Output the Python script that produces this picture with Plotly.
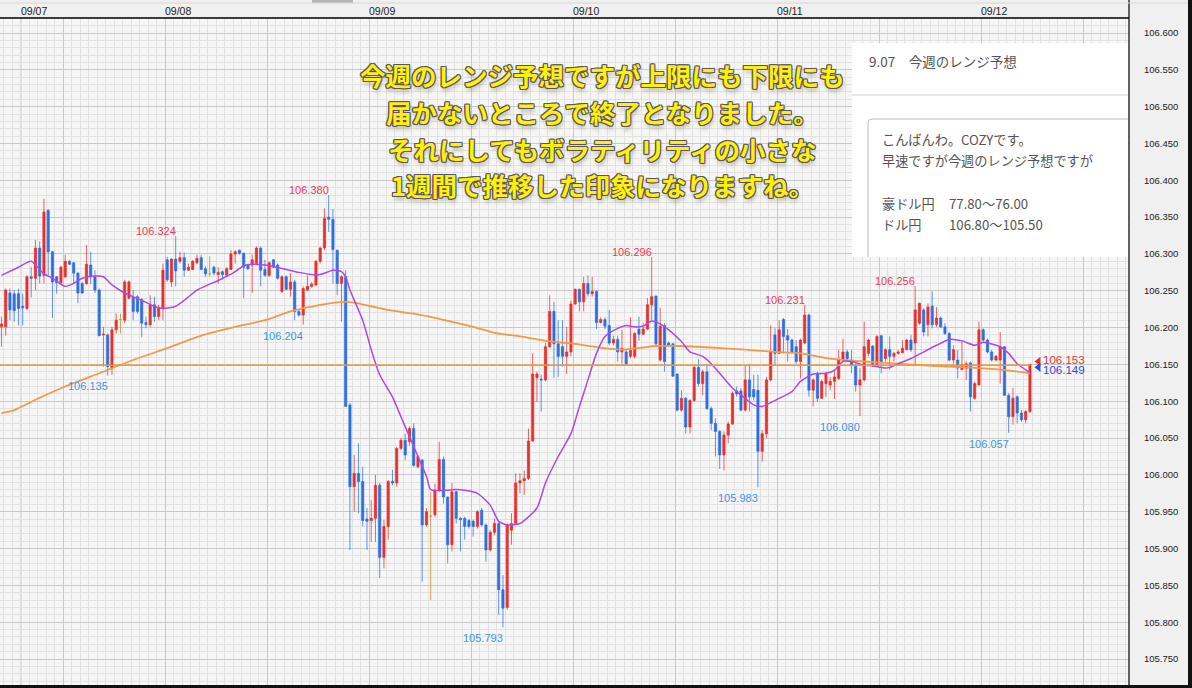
import plotly.graph_objects as go

# ---------------- data (30-minute USD/JPY bars, bar 0 = 09/07 07:00) ----------------
FIRST_BAR = -5

opens = [
    106.201, 106.201, 106.247, 106.246, 106.246, 106.229, 106.226, 106.269, 106.267, 106.308,
    106.271, 106.359, 106.303, 106.269, 106.261, 106.269, 106.290, 106.288, 106.274, 106.260,
    106.260, 106.285, 106.269, 106.251, 106.190, 106.190, 106.145, 106.197, 106.211, 106.210,
    106.240, 106.241, 106.242, 106.238, 106.207, 106.204, 106.231, 106.215, 106.226, 106.292,
    106.262, 106.293, 106.290, 106.295, 106.278, 106.279, 106.288, 106.295, 106.280, 106.273,
    106.282, 106.272, 106.276, 106.271, 106.279, 106.300, 106.305, 106.301, 106.285, 106.285,
    106.287, 106.308, 106.279, 106.271, 106.292, 106.285, 106.249, 106.269, 106.252, 106.262,
    106.222, 106.217, 106.251, 106.256, 106.258, 106.290, 106.308, 106.350, 106.347, 106.305,
    106.260, 106.269, 106.095, 105.984, 106.002, 105.991, 105.940, 105.938, 105.941, 105.986,
    105.888, 105.930, 105.991, 105.989, 106.036, 106.047, 106.045, 106.063, 106.011, 106.020,
    105.932, 105.944, 105.946, 105.979, 106.021, 105.970, 105.905, 105.977, 105.941, 105.941,
    105.938, 105.937, 105.930, 105.952, 105.932, 105.898, 105.922, 105.934, 105.844, 105.820,
    105.925, 105.934, 105.989, 105.992, 105.995, 106.046, 106.132, 106.130, 106.129, 106.174,
    106.222, 106.178, 106.174, 106.161, 106.167, 106.232, 106.252, 106.235, 106.260, 106.246,
    106.249, 106.207, 106.211, 106.203, 106.179, 106.184, 106.167, 106.167, 106.161, 106.161,
    106.198, 106.191, 106.198, 106.231, 106.243, 106.156, 106.203, 106.179, 106.178, 106.137,
    106.088, 106.104, 106.065, 106.101, 106.146, 106.124, 106.140, 106.090, 106.070, 106.059,
    106.027, 106.054, 106.069, 106.114, 106.114, 106.088, 106.129, 106.116, 106.115, 106.032,
    106.056, 106.129, 106.190, 106.165, 106.211, 106.189, 106.183, 106.174, 106.154, 106.179,
    106.217, 106.115, 106.138, 106.104, 106.124, 106.122, 106.127, 106.131, 106.156, 106.167,
    106.156, 106.149, 106.122, 106.129, 106.165, 106.175, 106.149, 106.189, 106.158, 106.170,
    106.161, 106.165, 106.166, 106.170, 106.183, 106.179, 106.206, 106.224, 106.204, 106.229,
    106.204, 106.213, 106.201, 106.192, 106.156, 106.156, 106.143, 106.145, 106.152, 106.104,
    106.122, 106.197, 106.183, 106.167, 106.156, 106.156, 106.174, 106.108, 106.079, 106.106,
    106.084, 106.075, 106.086,
]

highs = [
    106.215, 106.253, 106.253, 106.251, 106.253, 106.246, 106.271, 106.282, 106.319, 106.317,
    106.375, 106.361, 106.304, 106.270, 106.284, 106.299, 106.292, 106.289, 106.275, 106.262,
    106.312, 106.303, 106.278, 106.253, 106.201, 106.192, 106.201, 106.219, 106.219, 106.265,
    106.264, 106.251, 106.244, 106.240, 106.215, 106.244, 106.242, 106.231, 106.287, 106.296,
    106.294, 106.324, 106.303, 106.302, 106.287, 106.292, 106.299, 106.299, 106.283, 106.297,
    106.284, 106.282, 106.278, 106.282, 106.305, 106.305, 106.306, 106.302, 106.287, 106.299,
    106.310, 106.310, 106.292, 106.290, 106.293, 106.287, 106.271, 106.271, 106.274, 106.265,
    106.224, 106.256, 106.271, 106.262, 106.292, 106.310, 106.362, 106.380, 106.361, 106.306,
    106.271, 106.278, 106.098, 106.027, 106.043, 106.011, 105.955, 105.966, 106.000, 105.989,
    105.939, 105.993, 106.007, 106.038, 106.050, 106.056, 106.066, 106.070, 106.027, 106.022,
    105.955, 105.977, 105.988, 106.045, 106.025, 105.970, 105.989, 105.979, 105.943, 105.943,
    105.940, 105.939, 105.952, 105.955, 105.934, 105.925, 105.941, 105.937, 105.864, 105.934,
    105.948, 106.002, 106.002, 106.006, 106.063, 106.165, 106.140, 106.136, 106.179, 106.244,
    106.235, 106.210, 106.210, 106.201, 106.237, 106.253, 106.253, 106.269, 106.271, 106.269,
    106.251, 106.214, 106.214, 106.224, 106.189, 106.189, 106.197, 106.170, 106.214, 106.194,
    106.215, 106.206, 106.240, 106.296, 106.243, 106.227, 106.206, 106.181, 106.179, 106.138,
    106.115, 106.106, 106.103, 106.149, 106.157, 106.143, 106.151, 106.093, 106.077, 106.061,
    106.059, 106.072, 106.113, 106.120, 106.118, 106.149, 106.151, 106.136, 106.136, 106.061,
    106.133, 106.203, 106.199, 106.210, 106.213, 106.198, 106.185, 106.183, 106.185, 106.231,
    106.219, 106.131, 106.140, 106.129, 106.140, 106.133, 106.142, 106.170, 106.185, 106.170,
    106.170, 106.151, 106.145, 106.208, 106.185, 106.176, 106.190, 106.190, 106.172, 106.188,
    106.167, 106.170, 106.183, 106.185, 106.190, 106.256, 106.234, 106.226, 106.233, 106.249,
    106.228, 106.215, 106.206, 106.194, 106.176, 106.170, 106.181, 106.154, 106.154, 106.127,
    106.208, 106.199, 106.185, 106.170, 106.163, 106.194, 106.175, 106.111, 106.118, 106.108,
    106.088, 106.088, 106.150,
]

lows = [
    106.174, 106.189, 106.210, 106.208, 106.203, 106.203, 106.224, 106.241, 106.251, 106.260,
    106.260, 106.271, 106.213, 106.246, 106.259, 106.267, 106.285, 106.260, 106.233, 106.246,
    106.258, 106.259, 106.247, 106.188, 106.147, 106.135, 106.136, 106.192, 106.192, 106.206,
    106.238, 106.210, 106.219, 106.187, 106.199, 106.201, 106.208, 106.210, 106.210, 106.262,
    106.255, 106.256, 106.287, 106.269, 106.277, 106.278, 106.286, 106.278, 106.269, 106.269,
    106.271, 106.260, 106.265, 106.269, 106.278, 106.287, 106.299, 106.240, 106.278, 106.247,
    106.285, 106.256, 106.269, 106.269, 106.281, 106.265, 106.247, 106.251, 106.242, 106.210,
    106.215, 106.204, 106.249, 106.254, 106.256, 106.287, 106.305, 106.330, 106.260, 106.244,
    106.208, 106.093, 105.898, 105.950, 105.948, 105.930, 105.898, 105.909, 105.909, 105.860,
    105.873, 105.912, 105.986, 105.984, 106.034, 106.020, 106.040, 106.011, 106.009, 105.855,
    105.930, 105.830, 105.943, 105.977, 105.961, 105.880, 105.896, 105.934, 105.896, 105.912,
    105.927, 105.916, 105.927, 105.930, 105.882, 105.896, 105.918, 105.810, 105.793, 105.817,
    105.905, 105.932, 105.975, 105.973, 105.993, 106.045, 106.099, 106.086, 106.127, 106.173,
    106.132, 106.133, 106.147, 106.137, 106.161, 106.231, 106.222, 106.222, 106.242, 106.242,
    106.198, 106.206, 106.198, 106.176, 106.176, 106.154, 106.151, 106.149, 106.158, 106.158,
    106.182, 106.190, 106.197, 106.210, 106.176, 106.154, 106.140, 106.174, 106.133, 106.086,
    106.086, 106.056, 106.056, 106.099, 106.120, 106.108, 106.088, 106.061, 106.025, 106.008,
    106.006, 106.043, 106.068, 106.106, 106.086, 106.086, 106.086, 106.101, 105.983, 106.018,
    106.050, 106.127, 106.149, 106.164, 106.165, 106.154, 106.165, 106.151, 106.131, 106.178,
    106.106, 106.093, 106.099, 106.103, 106.106, 106.115, 106.103, 106.129, 106.154, 106.154,
    106.138, 106.113, 106.080, 106.127, 106.161, 106.147, 106.147, 106.138, 106.154, 106.143,
    106.154, 106.163, 106.165, 106.170, 106.167, 106.149, 106.204, 106.188, 106.188, 106.199,
    106.201, 106.199, 106.190, 106.154, 106.151, 106.131, 106.142, 106.129, 106.086, 106.102,
    106.122, 106.181, 106.165, 106.154, 106.154, 106.124, 106.107, 106.057, 106.068, 106.070,
    106.072, 106.070, 106.084,
]

closes = [
    106.205, 106.251, 106.224, 106.223, 106.226, 106.227, 106.269, 106.267, 106.308, 106.270,
    106.357, 106.303, 106.262, 106.261, 106.282, 106.290, 106.286, 106.274, 106.247, 106.247,
    106.286, 106.269, 106.251, 106.189, 106.191, 106.147, 106.197, 106.210, 106.211, 106.262,
    106.262, 106.222, 106.222, 106.206, 106.204, 106.231, 106.215, 106.226, 106.278, 106.265,
    106.293, 106.277, 106.295, 106.278, 106.282, 106.290, 106.294, 106.279, 106.273, 106.273,
    106.274, 106.275, 106.272, 106.280, 106.300, 106.303, 106.301, 106.282, 106.280, 106.292,
    106.308, 106.278, 106.271, 106.288, 106.282, 106.267, 106.269, 106.252, 106.262, 106.222,
    106.217, 106.253, 106.256, 106.259, 106.290, 106.308, 106.348, 106.347, 106.306, 106.260,
    106.269, 106.093, 105.984, 106.002, 105.991, 105.938, 105.937, 105.941, 105.986, 105.888,
    105.930, 105.991, 105.989, 106.036, 106.047, 106.027, 106.063, 106.013, 106.025, 105.932,
    105.950, 105.944, 105.979, 106.021, 105.970, 105.905, 105.977, 105.941, 105.939, 105.930,
    105.930, 105.930, 105.950, 105.932, 105.898, 105.922, 105.934, 105.844, 105.819, 105.932,
    105.934, 105.989, 105.992, 105.995, 106.046, 106.137, 106.137, 106.129, 106.174, 106.222,
    106.178, 106.161, 106.161, 106.167, 106.232, 106.252, 106.235, 106.260, 106.246, 106.249,
    106.207, 106.211, 106.202, 106.179, 106.184, 106.167, 106.172, 106.151, 106.169, 106.192,
    106.191, 106.198, 106.231, 106.242, 106.178, 106.202, 106.154, 106.176, 106.134, 106.088,
    106.104, 106.065, 106.101, 106.146, 106.124, 106.140, 106.090, 106.070, 106.059, 106.027,
    106.054, 106.069, 106.111, 106.110, 106.088, 106.129, 106.106, 106.106, 106.032, 106.056,
    106.129, 106.167, 106.165, 106.197, 106.188, 106.183, 106.167, 106.154, 106.183, 106.217,
    106.115, 106.129, 106.104, 106.127, 106.138, 106.127, 106.133, 106.156, 106.167, 106.158,
    106.149, 106.122, 106.129, 106.174, 106.183, 106.149, 106.188, 106.154, 106.170, 106.161,
    106.165, 106.167, 106.172, 106.183, 106.170, 106.224, 106.233, 106.194, 106.228, 106.204,
    106.213, 106.201, 106.192, 106.156, 106.170, 106.145, 106.149, 106.151, 106.106, 106.124,
    106.197, 106.183, 106.167, 106.156, 106.161, 106.174, 106.108, 106.079, 106.104, 106.084,
    106.075, 106.086, 106.150,
]

# short moving average (purple), read at selected bars
fast_ma_bar = [-5, -1, 2, 5, 7, 10, 12, 14, 17, 19, 21, 24, 28, 31, 33, 36, 38, 41, 44, 46,
               50, 52, 54, 57, 59, 62, 65, 68, 70, 72, 73, 75, 76, 77, 80, 82, 84, 87, 89, 91,
               93, 95, 96, 99, 102, 104, 107, 110, 112, 114, 117, 121, 123, 126, 129, 131, 133,
               135, 137, 140, 142, 144, 146, 148, 150, 152, 155, 157, 160, 162, 164, 167, 170,
               172, 174, 178, 181, 183, 186, 189, 191, 193, 195, 198, 200, 203, 204, 206, 209,
               212, 215, 218, 221, 224, 226, 230, 232, 234, 237]
fast_ma_val = [106.271, 106.282, 106.290, 106.273, 106.267, 106.256, 106.260, 106.267, 106.270,
               106.269, 106.258, 106.247, 106.237, 106.229, 106.226, 106.229, 106.237, 106.251,
               106.259, 106.264, 106.276, 106.284, 106.286, 106.285, 106.283, 106.279, 106.275,
               106.272, 106.272, 106.276, 106.278, 106.276, 106.269, 106.251, 106.210, 106.170,
               106.136, 106.106, 106.079, 106.052, 106.025, 105.998, 105.980, 105.979, 105.980,
               105.979, 105.975, 105.959, 105.937, 105.932, 105.934, 105.955, 105.989, 106.025,
               106.056, 106.093, 106.129, 106.165, 106.188, 106.199, 106.203, 106.201, 106.202,
               106.209, 106.205, 106.197, 106.181, 106.167, 106.161, 106.151, 106.138, 106.118,
               106.104, 106.095, 106.093, 106.104, 106.113, 106.127, 106.137, 106.138, 106.142,
               106.154, 106.154, 106.149, 106.148, 106.145, 106.146, 106.151, 106.158, 106.167,
               106.176, 106.184, 106.182, 106.176, 106.180, 106.174, 106.165, 106.151, 106.139]

# long moving average (orange)
slow_ma_bar = [-5, -2, 3, 10, 18, 26, 34, 42, 50, 57, 63, 70, 76, 78, 82, 86, 92, 98, 106, 111,
               117, 123, 130, 137, 141, 146, 149, 155, 162, 170, 177, 183, 190, 198, 206, 214,
               222, 230, 237]
slow_ma_val = [106.084, 106.088, 106.102, 106.120, 106.138, 106.156, 106.172, 106.189, 106.201,
               106.210, 106.222, 106.231, 106.235, 106.234, 106.229, 106.224, 106.219, 106.212,
               106.201, 106.193, 106.188, 106.182, 106.178, 106.172, 106.170, 106.173, 106.175,
               106.175, 106.173, 106.170, 106.167, 106.165, 106.158, 106.154, 106.151, 106.148,
               106.146, 106.143, 106.138]

day_labels = ["09/07", "09/08", "09/09", "09/10", "09/11", "09/12"]
day_start_bar = [0, 34, 82, 130, 178, 226]

high_marks = [36, 72, 148, 184, 210]
low_marks = [20, 66, 113, 173, 197, 232]

ask_price = 106.153
bid_price = 106.149

y_tick_vals = [105.75, 105.80, 105.85, 105.90, 105.95, 106.00, 106.05, 106.10, 106.15,
               106.20, 106.25, 106.30, 106.35, 106.40, 106.45, 106.50, 106.55, 106.60]

overlay_lines = ["今週のレンジ予想ですが上限にも下限にも",
                 "届かないところで終了となりました。",
                 "それにしてもボラティリティの小さな",
                 "1週間で推移した印象になりますね。"]

panel_title = "9.07　今週のレンジ予想"
panel_lines = ["こんばんわ。COZYです。", "早速ですが今週のレンジ予想ですが"]
panel_pairs = [("豪ドル円", "77.80～76.00"), ("ドル円", "106.80～105.50")]

# ---------------- layout geometry ----------------
W, H = 1192, 688
PL, PR, PT, PB = 0, 1129, 18, 685
BAR_PX = 4.25
BAR0_PX = 22.7
X_RANGE = [(PL - BAR0_PX) / BAR_PX, (PR - BAR0_PX) / BAR_PX]
Y_RANGE = [105.7147, 106.6204]


def pxx(x):
    return (x - PL) / (PR - PL)


def pxy(y):
    return (PB - y) / (PB - PT)


n = len(opens)
bars = [FIRST_BAR + i for i in range(n)]

RED = "#e8302d"
BLUE = "#2d6fe0"
TAN = "#c9a24e"

fig = go.Figure()


def candle(idx, inc_fill, inc_line, dec_fill, dec_line):
    return go.Candlestick(
        x=[bars[i] for i in idx],
        open=[opens[i] for i in idx],
        high=[highs[i] for i in idx],
        low=[lows[i] for i in idx],
        close=[closes[i] for i in idx],
        increasing=dict(fillcolor=inc_fill, line=dict(color=inc_line, width=1)),
        decreasing=dict(fillcolor=dec_fill, line=dict(color=dec_line, width=1)),
        whiskerwidth=0, hoverinfo="skip", showlegend=False)


up_idx = [i for i in range(n) if closes[i] > opens[i]]
dn_idx = [i for i in range(n) if closes[i] < opens[i]]
dj_idx = [i for i in range(n) if closes[i] == opens[i]]

fig.add_trace(candle(up_idx, RED, "rgba(232,48,45,0.75)", BLUE, "rgba(45,111,224,0.75)"))
fig.add_trace(candle(dn_idx, RED, "rgba(232,48,45,0.75)", BLUE, "rgba(45,111,224,0.75)"))
fig.add_trace(candle(dj_idx, TAN, TAN, TAN, TAN))

fig.add_trace(go.Scatter(x=slow_ma_bar, y=slow_ma_val, mode="lines",
                         line=dict(color="#f4994a", width=1.8, shape="spline", smoothing=0.6),
                         hoverinfo="skip", showlegend=False))
fig.add_trace(go.Scatter(x=fast_ma_bar, y=fast_ma_val, mode="lines",
                         line=dict(color="#b047e8", width=1.5, shape="spline", smoothing=0.6),
                         hoverinfo="skip", showlegend=False))

# last price markers
last_bar = bars[-1]
fig.add_trace(go.Scatter(x=[last_bar + 2, last_bar + 2], y=[ask_price + 0.001, bid_price - 0.003],
                         mode="markers",
                         marker=dict(symbol="triangle-left", size=8, color=["#e8302d", "#2a4fd8"]),
                         hoverinfo="skip", showlegend=False))

shapes = []
# 09/07 week-open line
shapes.append(dict(type="line", xref="x", yref="paper", x0=day_start_bar[0] - 0.45,
                   x1=day_start_bar[0] - 0.45, y0=0, y1=1,
                   line=dict(color="#f3de6a", width=2), layer="below"))
# bid line
shapes.append(dict(type="line", xref="x", yref="y", x0=X_RANGE[0], x1=last_bar,
                   y0=bid_price, y1=bid_price, line=dict(color="#ff9a14", width=1.5), layer="above"))
# frame lines
shapes.append(dict(type="line", xref="paper", yref="paper", x0=0, x1=1, y0=1, y1=1,
                   line=dict(color="#000000", width=1.5)))
shapes.append(dict(type="line", xref="paper", yref="paper", x0=1, x1=1, y0=pxy(H), y1=pxy(0),
                   line=dict(color="#000000", width=1.2)))
shapes.append(dict(type="rect", xref="paper", yref="paper", x0=pxx(1188), x1=pxx(1193),
                   y0=pxy(H + 2), y1=pxy(-2), fillcolor="#111111", line=dict(width=0)))
shapes.append(dict(type="rect", xref="paper", yref="paper", x0=pxx(-2), x1=pxx(1193),
                   y0=pxy(H + 2), y1=pxy(685), fillcolor="#111111", line=dict(width=0)))
# scrollbar thumb in the top strip
shapes.append(dict(type="rect", xref="paper", yref="paper", x0=pxx(312), x1=pxx(353),
                   y0=pxy(3), y1=pxy(0), fillcolor="#b4b4b4", line=dict(width=0)))
shapes.append(dict(type="line", xref="paper", yref="paper", x0=pxx(0), x1=pxx(1188),
                   y0=pxy(3), y1=pxy(3), line=dict(color="#d6d6d6", width=1)))
# info panel
shapes.append(dict(type="rect", xref="paper", yref="paper", x0=pxx(852), x1=pxx(1128),
                   y0=pxy(257), y1=pxy(43), fillcolor="#ffffff", line=dict(width=0), layer="above"))
shapes.append(dict(type="line", xref="paper", yref="paper", x0=pxx(852), x1=pxx(1128),
                   y0=pxy(95), y1=pxy(95), line=dict(color="#d2d2d2", width=1), layer="above"))
shapes.append(dict(type="path", xref="paper", yref="paper", layer="above",
                   path="M {a},{b} L {c},{b} Q {d},{b} {d},{e} L {d},{f}".format(
                       a=pxx(1128), b=pxy(119), c=pxx(872), d=pxx(868), e=pxy(123), f=pxy(257)),
                   line=dict(color="#bdbdbd", width=1)))

ann = []
# date labels along the top
for lbl, b in zip(day_labels, day_start_bar):
    ann.append(dict(x=b - 0.45, xref="x", y=1, yref="paper", text=lbl, showarrow=False,
                    xanchor="left", yanchor="bottom", xshift=-2, yshift=-1,
                    font=dict(family="Liberation Sans", size=10.5, color="#222222")))
# high / low markers
for b in high_marks:
    i = b - FIRST_BAR
    ann.append(dict(x=b, y=highs[i], text=f"{highs[i]:.3f}", showarrow=False,
                    xanchor="right", yanchor="bottom", xshift=2, yshift=-3,
                    font=dict(family="Liberation Sans", size=11, color="#f03a52")))
for b in low_marks:
    i = b - FIRST_BAR
    ann.append(dict(x=b, y=lows[i], text=f"{lows[i]:.3f}", showarrow=False,
                    xanchor="right", yanchor="top", xshift=2, yshift=-3,
                    font=dict(family="Liberation Sans", size=11, color="#3c96ea")))
# last price labels
ann.append(dict(x=last_bar + 2, y=ask_price, text=f"{ask_price:.3f}", showarrow=False,
                xanchor="left", yanchor="middle", xshift=3, yshift=2,
                font=dict(family="Liberation Sans", size=11.5, color="#ee3535")))
ann.append(dict(x=last_bar + 2, y=bid_price, text=f"{bid_price:.3f}", showarrow=False,
                xanchor="left", yanchor="middle", xshift=3, yshift=-5,
                font=dict(family="Liberation Sans", size=11.5, color="#2a4fd8")))
# overlay message
outline = "#5a5270"
shadow = (f"-1px -1px 0 {outline}, 1px -1px 0 {outline}, -1px 1px 0 {outline}, "
          f"1px 1px 0 {outline}, 0 -1px 0 {outline}, 0 1px 0 {outline}, "
          f"-1px 0 0 {outline}, 1px 0 0 {outline}, 1px 4px 4px rgba(120,110,60,0.45)")
for j, line in enumerate(overlay_lines):
    ann.append(dict(x=pxx(602), y=pxy(75 + 36.5 * j), xref="paper", yref="paper", text=line,
                    showarrow=False, xanchor="center", yanchor="middle",
                    font=dict(family="Noto Sans CJK JP", size=25.5, color="#fff200",
                              weight="bold", shadow=shadow)))
# info panel text
ann.append(dict(x=pxx(867), y=pxy(61), xref="paper", yref="paper", text=panel_title,
                showarrow=False, xanchor="left", yanchor="middle",
                font=dict(family="Noto Sans CJK JP", size=13.5, color="#555555")))
for j, line in enumerate(panel_lines):
    ann.append(dict(x=pxx(880), y=pxy(139 + 21 * j), xref="paper", yref="paper", text=line,
                    showarrow=False, xanchor="left", yanchor="middle",
                    font=dict(family="Noto Sans CJK JP", size=13.2, color="#555555")))
for j, (name, rng) in enumerate(panel_pairs):
    yy = pxy(204 + 21 * j)
    ann.append(dict(x=pxx(880), y=yy, xref="paper", yref="paper", text=name,
                    showarrow=False, xanchor="left", yanchor="middle",
                    font=dict(family="Noto Sans CJK JP", size=13.2, color="#555555")))
    ann.append(dict(x=pxx(947), y=yy, xref="paper", yref="paper", text=rng,
                    showarrow=False, xanchor="left", yanchor="middle",
                    font=dict(family="Noto Sans CJK JP", size=13.2, color="#555555")))

fig.update_layout(
    width=W, height=H,
    margin=dict(l=PL, r=W - PR, t=PT, b=H - PB, pad=0),
    paper_bgcolor="#f0f0f0", plot_bgcolor="#f6f6f6",
    showlegend=False, hovermode=False,
    boxgap=0.28,
    shapes=shapes, annotations=ann,
    xaxis=dict(range=X_RANGE, showticklabels=False, ticks="",
               tick0=day_start_bar[1] - 0.45 - 24, dtick=24,
               showgrid=True, gridcolor="#c9c9c9", gridwidth=1, zeroline=False,
               showline=False, rangeslider=dict(visible=False), fixedrange=True,
               minor=dict(tick0=day_start_bar[1] - 0.45, dtick=2, showgrid=True,
                          gridcolor="#e2e2e2", gridwidth=1)),
    yaxis=dict(range=Y_RANGE, side="right", tickvals=y_tick_vals,
               ticktext=[f"{v:.3f}" for v in y_tick_vals], ticks="",
               ticklabelstandoff=14,
               tickfont=dict(family="Liberation Sans", size=9.5, color="#222222"),
               showgrid=True, gridcolor="#c9c9c9", gridwidth=1, zeroline=False,
               showline=False, fixedrange=True,
               minor=dict(tick0=105.75, dtick=0.01, showgrid=True,
                          gridcolor="#e2e2e2", gridwidth=1)),
)

fig.write_html("out.html", config={"displayModeBar": False},
               post_script="document.body.style.margin='0px';document.body.style.overflow='hidden';")
